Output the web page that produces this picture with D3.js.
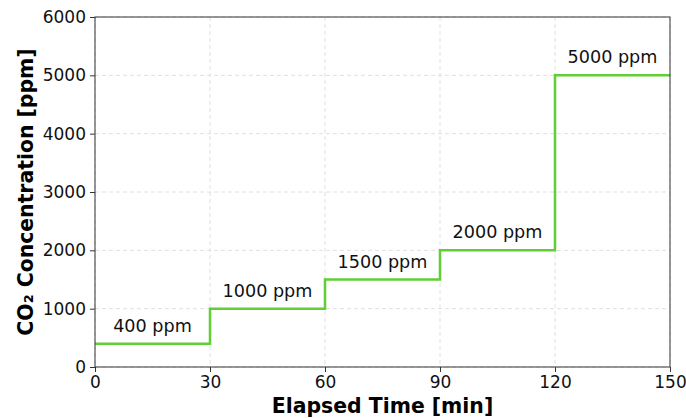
<!DOCTYPE html>
<html>
<head>
<meta charset="utf-8">
<script src="https://cdn.jsdelivr.net/npm/d3@7"></script>
<style>
  body { margin: 0; background: #fff; }
  svg { font-family: "DejaVu Sans", sans-serif; }
</style>
</head>
<body>
<div id="chart-area"></div>
<script>
// step levels of the CO2 concentration
var stepStart = [0, 30, 60, 90, 120];
var stepEnd = [30, 60, 90, 120, 150];
var levels = [400, 1000, 1500, 2000, 5000];
var labels = ["400 ppm", "1000 ppm", "1500 ppm", "2000 ppm", "5000 ppm"];

var xTicks = [0, 30, 60, 90, 120, 150];
var yTicks = [0, 1000, 2000, 3000, 4000, 5000, 6000];

var W = 686, H = 418;
var margin = { left: 95, right: 16, top: 17, bottom: 51 };
var width = W - margin.left - margin.right,
    height = H - margin.top - margin.bottom;

var svg = d3.select("#chart-area")
    .append("svg")
    .attr("width", W)
    .attr("height", H);

var g = svg.append("g")
    .attr("transform", "translate(" + margin.left + "," + margin.top + ")");

var x = d3.scaleLinear().domain([0, 150]).range([0, width]);
var y = d3.scaleLinear().domain([0, 6000]).range([height, 0]);

// grid
g.selectAll(".gx").data(xTicks).enter().append("line")
    .attr("x1", d => x(d)).attr("x2", d => x(d))
    .attr("y1", 0).attr("y2", height)
    .attr("stroke", "#dcdcdc").attr("stroke-dasharray", "4,3").attr("stroke-width", 0.9);
g.selectAll(".gy").data(yTicks).enter().append("line")
    .attr("x1", 0).attr("x2", width)
    .attr("y1", d => y(d)).attr("y2", d => y(d))
    .attr("stroke", "#dcdcdc").attr("stroke-dasharray", "4,3").attr("stroke-width", 0.9);

// step line
var pts = [];
levels.forEach(function(v, i) {
    pts.push([stepStart[i], v]);
    pts.push([stepEnd[i], v]);
});
var line = d3.line().x(d => x(d[0])).y(d => y(d[1]));
g.append("path")
    .attr("d", line(pts))
    .attr("fill", "none")
    .attr("stroke", "#5fcf35")
    .attr("stroke-width", 2.5);

// labels
g.selectAll(".lab").data(levels).enter().append("text")
    .attr("x", (d, i) => x((stepStart[i] + stepEnd[i]) / 2))
    .attr("y", d => y(d) - 12)
    .attr("text-anchor", "middle")
    .style("font-size", "17.6px")
    .attr("fill", "#111")
    .text((d, i) => labels[i]);

// axes
var xAxis = g.append("g")
    .attr("transform", "translate(0," + height + ")")
    .call(d3.axisBottom(x).tickValues(xTicks).tickFormat(d3.format("d")).tickSize(5).tickPadding(4));
var yAxis = g.append("g")
    .call(d3.axisLeft(y).tickValues(yTicks).tickFormat(d3.format("d")).tickSize(5).tickPadding(4));
[xAxis, yAxis].forEach(function(a) {
    a.selectAll("text").style("font-size", "17px").attr("fill", "#111").style("font-family", "DejaVu Sans");
    a.selectAll("line").attr("stroke", "#333");
    a.select(".domain").remove();
});

// frame
g.append("rect")
    .attr("width", width).attr("height", height)
    .attr("fill", "none").attr("stroke", "#333").attr("stroke-width", 1);

// axis titles
svg.append("text")
    .attr("x", margin.left + width / 2)
    .attr("y", 413)
    .attr("text-anchor", "middle")
    .style("font-size", "20.4px")
    .style("font-weight", "bold")
    .text("Elapsed Time [min]");

svg.append("text")
    .attr("transform", "translate(33," + (margin.top + height / 2) + ") rotate(-90)")
    .attr("text-anchor", "middle")
    .style("font-size", "20.4px")
    .style("font-weight", "bold")
    .text("CO₂ Concentration [ppm]");
</script>
</body>
</html>
